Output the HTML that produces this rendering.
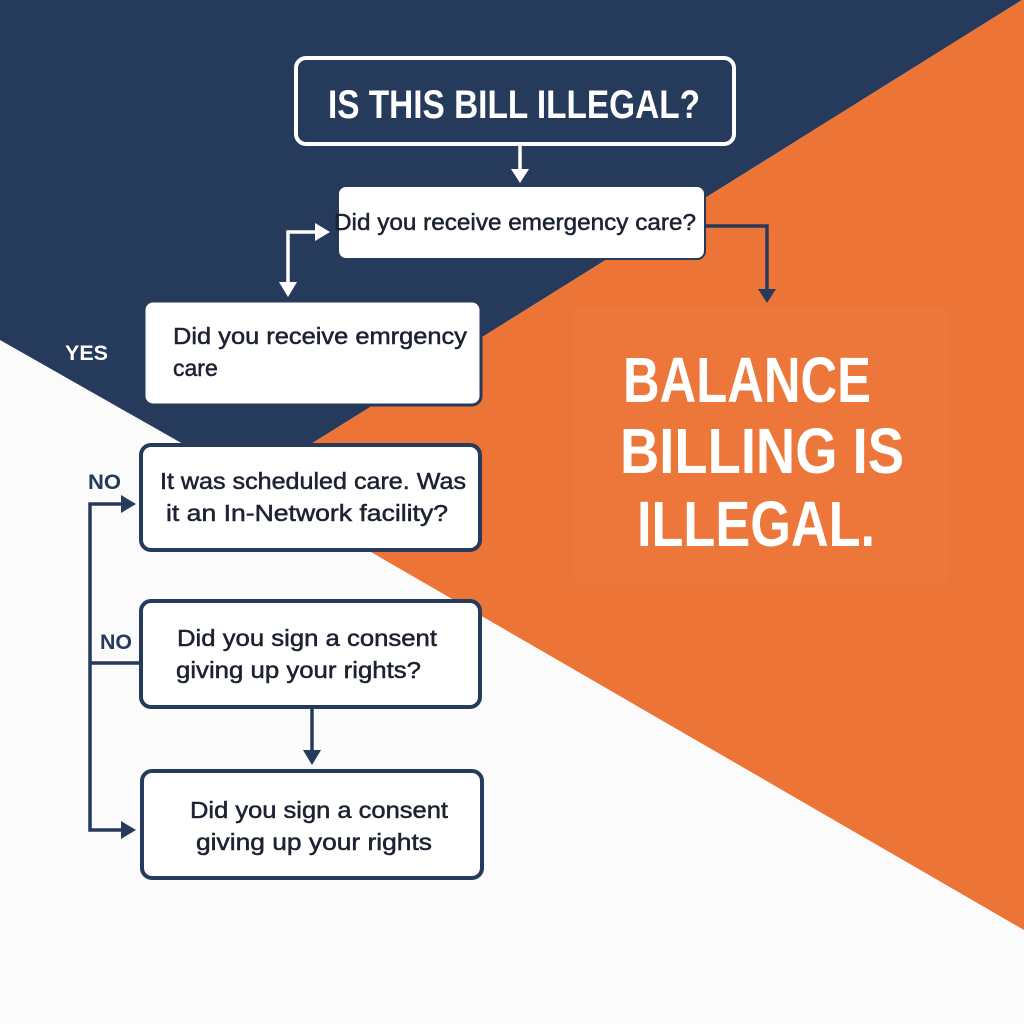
<!DOCTYPE html>
<html><head><meta charset="utf-8"><style>
html,body{margin:0;padding:0;background:#fff}
svg{display:block}
text{font-family:"Liberation Sans",sans-serif}
.b{stroke:#1c2230;stroke-width:0.5}
</style></head><body>
<svg width="1024" height="1024" viewBox="0 0 1024 1024" xmlns="http://www.w3.org/2000/svg">
<rect width="1024" height="1024" fill="#fbfbfb"/>
<polygon points="0,0 1022,0 250,482 0,340" fill="#263a5c"/>
<polygon points="1022,0 1024,0 1024,930 250,482" fill="#ec7436"/>
<rect x="573" y="308" width="375" height="277" rx="8" fill="#ef7a3d" opacity="0.6"/>

<rect x="296" y="58" width="438" height="86" rx="10" fill="none" stroke="#fff" stroke-width="4"/>
<text x="328" y="118" font-size="40" font-weight="bold" fill="#fff" textLength="372" lengthAdjust="spacingAndGlyphs">IS THIS BILL ILLEGAL?</text>
<line x1="520" y1="146" x2="520" y2="172" stroke="#fff" stroke-width="3.5"/>
<polygon points="511,169 529,169 520,183" fill="#fff"/>

<rect x="338" y="186" width="367" height="73" rx="8" fill="#fff" stroke="#263a5c" stroke-width="2"/>
<text class="b" x="334" y="230" font-size="23" fill="#1c2230" textLength="362" lengthAdjust="spacingAndGlyphs">Did you receive emergency care?</text>
<polyline points="318,232 288,232 288,285" fill="none" stroke="#fff" stroke-width="3.5"/>
<polygon points="315,223 330,232 315,241" fill="#fff"/>
<polygon points="279,282 297,282 288,297" fill="#fff"/>
<polyline points="706,226 767,226 767,292" fill="none" stroke="#263a5c" stroke-width="3.5"/>
<polygon points="758,289 776,289 767,303" fill="#263a5c"/>

<rect x="144" y="301" width="337" height="104" rx="9" fill="#fff" stroke="#263a5c" stroke-width="3"/>
<text class="b" x="173" y="344" font-size="23" fill="#1c2230" textLength="294" lengthAdjust="spacingAndGlyphs">Did you receive emrgency</text>
<text class="b" x="173" y="376" font-size="23" fill="#1c2230">care</text>
<text x="65" y="360" font-size="21" font-weight="bold" fill="#fff" textLength="43" lengthAdjust="spacingAndGlyphs">YES</text>

<rect x="141" y="445" width="339" height="105" rx="10" fill="#fff" stroke="#263a5c" stroke-width="4"/>
<text class="b" x="160" y="489" font-size="23" fill="#1c2230" textLength="306" lengthAdjust="spacingAndGlyphs">It was scheduled care. Was</text>
<text class="b" x="166" y="521" font-size="23" fill="#1c2230" textLength="282" lengthAdjust="spacingAndGlyphs">it an In-Network facility?</text>
<text x="88" y="489" font-size="21" font-weight="bold" fill="#263a5c" textLength="33" lengthAdjust="spacingAndGlyphs">NO</text>

<polyline points="124,504 90,504 90,830 124,830" fill="none" stroke="#263a5c" stroke-width="3.5"/>
<polygon points="121,495 136,504 121,513" fill="#263a5c"/>
<polygon points="121,821 136,830 121,839" fill="#263a5c"/>
<line x1="90" y1="663" x2="141" y2="663" stroke="#263a5c" stroke-width="3.5"/>

<rect x="141" y="601" width="339" height="106" rx="10" fill="#fff" stroke="#263a5c" stroke-width="4"/>
<text class="b" x="177" y="646" font-size="23" fill="#1c2230" textLength="260" lengthAdjust="spacingAndGlyphs">Did you sign a consent</text>
<text class="b" x="176" y="678" font-size="23" fill="#1c2230" textLength="245" lengthAdjust="spacingAndGlyphs">giving up your rights?</text>
<text x="100" y="649" font-size="21" font-weight="bold" fill="#263a5c" textLength="32" lengthAdjust="spacingAndGlyphs">NO</text>
<line x1="312" y1="708" x2="312" y2="752" stroke="#263a5c" stroke-width="3.5"/>
<polygon points="303,750 321,750 312,765" fill="#263a5c"/>

<rect x="142" y="771" width="340" height="107" rx="10" fill="#fff" stroke="#263a5c" stroke-width="4"/>
<text class="b" x="190" y="818" font-size="23" fill="#1c2230" textLength="258" lengthAdjust="spacingAndGlyphs">Did you sign a consent</text>
<text class="b" x="196" y="850" font-size="23" fill="#1c2230" textLength="236" lengthAdjust="spacingAndGlyphs">giving up your rights</text>

<text x="623" y="402" font-size="64" font-weight="bold" fill="#fff" textLength="248" lengthAdjust="spacingAndGlyphs">BALANCE</text>
<text x="620" y="473" font-size="64" font-weight="bold" fill="#fff" textLength="284" lengthAdjust="spacingAndGlyphs">BILLING IS</text>
<text x="637" y="546" font-size="64" font-weight="bold" fill="#fff" textLength="238" lengthAdjust="spacingAndGlyphs">ILLEGAL.</text>
</svg>
</body></html>
